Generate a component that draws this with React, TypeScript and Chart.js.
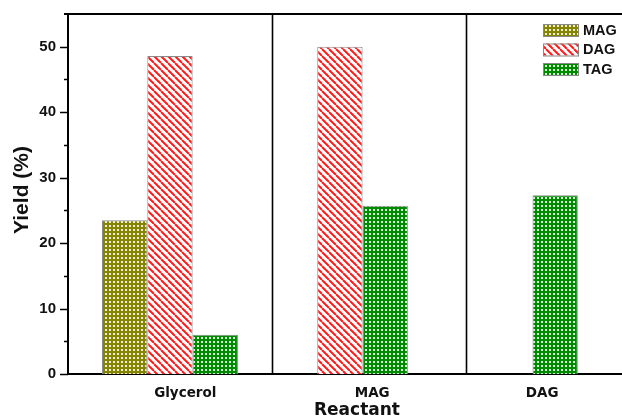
import React, { useEffect, useRef } from "react";
import { Chart, registerables } from "chart.js";

Chart.register(...registerables);

const categories = ["Glycerol", "MAG", "DAG"];
const groupPos = [0, 1, 2];
const labelPos = [0.09, 1.19, 2.19];
const separators = [0.6, 1.74];
const seriesNames = ["MAG", "DAG", "TAG"];
const magValues = [23.5, null, null];
const dagValues = [48.6, 50.0, null];
const tagValues = [6.0, 25.7, 27.3];
const xTitle = "Reactant";
const yTitle = "Yield (%)";

function dotPattern(bg: string) {
  const c = document.createElement("canvas");
  c.width = 4;
  c.height = 4;
  const g = c.getContext("2d")!;
  g.fillStyle = bg;
  g.fillRect(0, 0, 4, 4);
  g.fillStyle = "rgba(255,255,255,0.85)";
  g.fillRect(1, 1, 2, 2);
  return g.createPattern(c, "repeat")!;
}

function stripePattern() {
  const s = 7;
  const c = document.createElement("canvas");
  c.width = s;
  c.height = s;
  const g = c.getContext("2d")!;
  g.fillStyle = "#ffffff";
  g.fillRect(0, 0, s, s);
  g.strokeStyle = "#ff1a1a";
  g.lineWidth = 2;
  for (const o of [-s, 0, s]) {
    g.beginPath();
    g.moveTo(o, 0);
    g.lineTo(o + s, s);
    g.stroke();
  }
  return g.createPattern(c, "repeat")!;
}

export default function App() {
  const ref = useRef<HTMLCanvasElement>(null);
  useEffect(() => {
    document.body.style.margin = "0";
    const fills = [dotPattern("#858500"), stripePattern(), dotPattern("#008a00")];
    const series = [magValues, dagValues, tagValues];
    const overlay = {
      id: "overlay",
      afterDatasetsDraw(chart: any) {
        const ctx = chart.ctx;
        const a = chart.chartArea;
        const xs = chart.scales.x;
        const ys = chart.scales.y;
        ctx.save();
        // separators
        ctx.strokeStyle = "#000";
        ctx.lineWidth = 1.6;
        for (const s of separators) {
          const px = Math.round(xs.getPixelForValue(s)) + 0.5;
          ctx.beginPath();
          ctx.moveTo(px, a.top);
          ctx.lineTo(px, a.bottom);
          ctx.stroke();
        }
        // top line
        ctx.lineWidth = 2;
        ctx.beginPath();
        ctx.moveTo(a.left - 4, a.top);
        ctx.lineTo(a.right, a.top);
        ctx.stroke();
        // y ticks
        ctx.lineWidth = 1.5;
        for (const t of ys.ticks) {
          if (t.value > 50) continue;
          const py = Math.round(ys.getPixelForValue(t.value)) + 0.5;
          const len = t.value % 10 === 0 ? 8 : 4;
          ctx.beginPath();
          ctx.moveTo(a.left - len, py);
          ctx.lineTo(a.left, py);
          ctx.stroke();
        }
        // legend
        ctx.font = "bold 14.5px 'Liberation Sans', Arial, sans-serif";
        ctx.textBaseline = "middle";
        ctx.textAlign = "left";
        seriesNames.forEach((n, i) => {
          const y = 24 + i * 19.5;
          ctx.fillStyle = fills[i];
          ctx.fillRect(543, y, 35, 12);
          ctx.strokeStyle = "#888";
          ctx.lineWidth = 1;
          ctx.strokeRect(543.5, y + 0.5, 35, 12);
          ctx.fillStyle = "#111";
          ctx.fillText(n, 583, y + 6.5);
        });
        // titles
        ctx.fillStyle = "#111";
        ctx.textBaseline = "alphabetic";
        ctx.font = "bold 17px 'DejaVu Sans', sans-serif";
        ctx.textAlign = "center";
        ctx.fillText(xTitle, 357, 415);
        ctx.textBaseline = "middle";
        ctx.translate(22, 190);
        ctx.rotate(-Math.PI / 2);
        ctx.font = "bold 21px 'Liberation Sans', Arial, sans-serif";
        ctx.fillText(yTitle, 0, 0);
        ctx.restore();
      },
    };
    const chart = new Chart(ref.current!, {
      type: "bar",
      data: {
        datasets: series.map((vals, i) => ({
          label: seriesNames[i],
          data: groupPos.map((x, j) => ({ x, y: vals[j] })) as any,
          backgroundColor: fills[i],
          borderColor: "#8a8a8a",
          borderWidth: 1,
          categoryPercentage: 0.8,
          barPercentage: 1.0,
        })),
      },
      options: {
        animation: false,
        responsive: false,
        maintainAspectRatio: false,
        layout: { padding: { top: 14, right: 0, left: 0, bottom: 0 } },
        plugins: { legend: { display: false }, tooltip: { enabled: false } },
        scales: {
          x: {
            type: "linear",
            offset: false,
            min: -0.6,
            max: 2.66,
            grid: { display: false, drawTicks: false, offset: false },
            border: { display: true, color: "#000", width: 2 },
            afterBuildTicks: (scale: any) => {
              scale.ticks = labelPos.map((v) => ({ value: v }));
            },
            afterFit: (scale: any) => {
              scale.height = 44;
              scale.paddingLeft = 0;
              scale.paddingRight = 0;
            },
            ticks: {
              autoSkip: false,
              maxRotation: 0,
              padding: 11,
              color: "#111",
              font: { family: "'DejaVu Sans', sans-serif", size: 13.5, weight: "bold" },
              callback: (_v: any, i: number) => categories[i],
            },
          },
          y: {
            min: 0,
            max: 55,
            grid: { display: false, drawTicks: false },
            border: { display: true, color: "#000", width: 2 },
            afterFit: (scale: any) => {
              scale.width = 68;
              scale.paddingTop = 0;
              scale.paddingBottom = 0;
            },
            ticks: {
              stepSize: 5,
              padding: 12,
              color: "#111",
              font: { family: "'Liberation Sans', Arial, sans-serif", size: 15, weight: "bold" },
              callback: (v: any) => (v % 10 === 0 && v <= 50 ? String(v) : ""),
            },
          },
        },
      },
      plugins: [overlay],
    });
    return () => chart.destroy();
  }, []);
  return (
    <div style={{ position: "absolute", left: 0, top: 0 }}>
      <canvas ref={ref} width={622} height={418} />
    </div>
  );
}
